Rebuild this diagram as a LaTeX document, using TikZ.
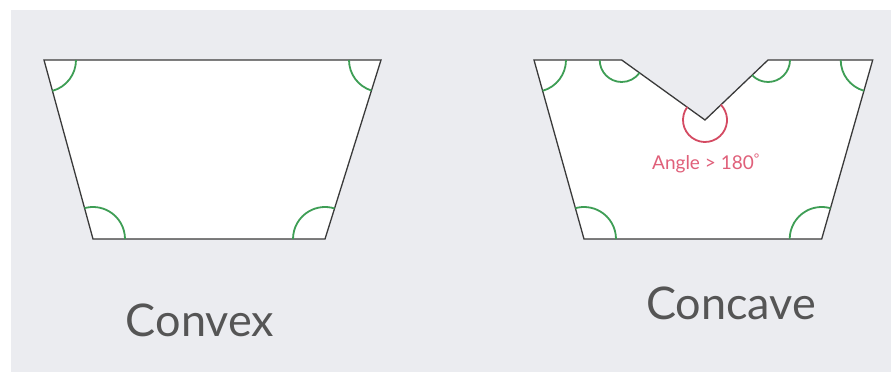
\documentclass[tikz,border=0pt]{standalone}
\usepackage{fontspec}
\setmainfont{Lato}
\usetikzlibrary{calc}
\definecolor{bggray}{HTML}{EBECF0}
\definecolor{edgegray}{HTML}{3A3A3A}
\definecolor{anglegreen}{HTML}{3E9E55}
\definecolor{anglered}{HTML}{D44A62}
\definecolor{labelred}{HTML}{E0607A}
\definecolor{labelgray}{HTML}{555555}
\tikzset{
  shapeedge/.style={draw=edgegray, line width=1.3pt, fill=white, line join=miter},
  greenarc/.style={draw=anglegreen, line width=1.8pt},
  redarc/.style={draw=anglered, line width=1.8pt},
  biglabel/.style={text=labelgray, font=\fontsize{45}{50}\selectfont, anchor=base, inner sep=0pt},
  smalllabel/.style={text=labelred, font=\fontsize{19}{22}\selectfont, anchor=base, inner sep=0pt}
}
\begin{document}
\begin{tikzpicture}[x=1pt,y=1pt]
\useasboundingbox (0,0) rectangle (891,372);
\fill[white] (0,0) rectangle (891,372);
\fill[bggray] (11,0) rectangle (891,362);
% Convex
\coordinate (a1) at (44,312);
\coordinate (a2) at (381,312);
\coordinate (a3) at (325,133);
\coordinate (a4) at (93,133);
\path[shapeedge] (a1) -- (a2) -- (a3) -- (a4) -- cycle;
\draw[greenarc] (a1) ++(0:32) arc[start angle=0, end angle=-74.7, radius=32];
\draw[greenarc] (a2) ++(180:32) arc[start angle=180, end angle=252.6, radius=32];
\draw[greenarc] (a4) ++(0:32) arc[start angle=0, end angle=105.3, radius=32];
\draw[greenarc] (a3) ++(180:32) arc[start angle=180, end angle=72.6, radius=32];
% Concave
\coordinate (b1) at (534,312);
\coordinate (b2) at (621.7,312);
\coordinate (b3) at (705,252);
\coordinate (b4) at (768,312);
\coordinate (b5) at (872.7,312);
\coordinate (b6) at (821.7,133);
\coordinate (b7) at (584,133);
\path[shapeedge] (b1) -- (b2) -- (b3) -- (b4) -- (b5) -- (b6) -- (b7) -- cycle;
\draw[greenarc] (b1) ++(0:32) arc[start angle=0, end angle=-74.4, radius=32];
\draw[greenarc] (b2) ++(180:22) arc[start angle=180, end angle=324.2, radius=22];
\draw[greenarc] (b4) ++(0:22) arc[start angle=360, end angle=223.6, radius=22];
\draw[greenarc] (b5) ++(180:32) arc[start angle=180, end angle=254, radius=32];
\draw[greenarc] (b7) ++(0:32) arc[start angle=0, end angle=105.6, radius=32];
\draw[greenarc] (b6) ++(180:32) arc[start angle=180, end angle=74.1, radius=32];
\draw[redarc] (b3) ++(144.2:22) arc[start angle=144.2, end angle=404, radius=22];
% Labels
\node[smalllabel] (anglelbl) at (706,202) {Angle > 180\textsuperscript{°}};
\node[biglabel] (convexlbl) at (200,35) {Convex};
\node[biglabel] (concavelbl) at (731,52) {Concave};
\end{tikzpicture}
\end{document}
